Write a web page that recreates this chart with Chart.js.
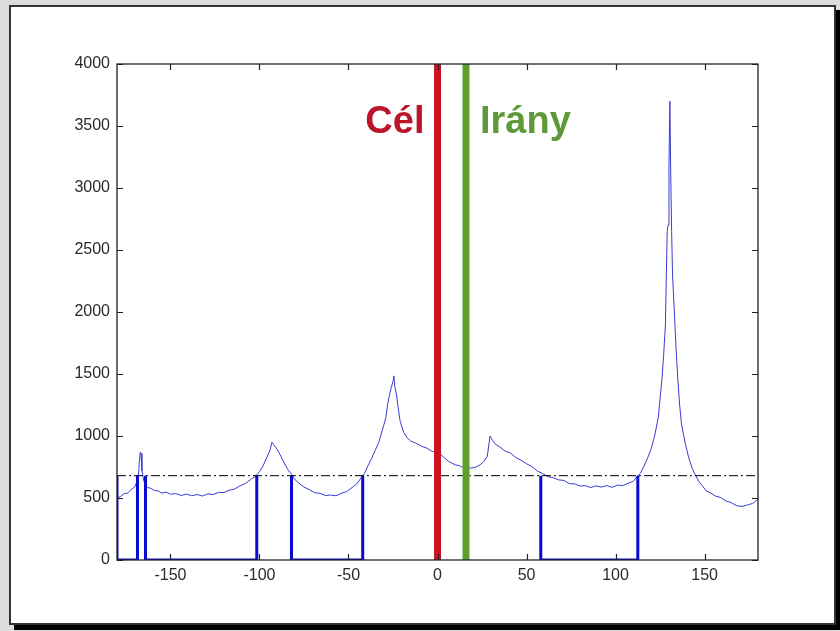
<!DOCTYPE html>
<html lang="hu">
<head>
<meta charset="UTF-8">
<title>Cél / Irány</title>
<style>
  html, body { margin: 0; padding: 0; }
  body { width: 840px; height: 631px; background: #dcdcdc; position: relative; overflow: hidden; }
  .frame { position: absolute; left: 9px; top: 5px; width: 823px; height: 616px;
           background: #fff; border: 2px solid #333; box-shadow: 5px 5px 0 #000; }
  #chart { position: absolute; left: 0; top: 0; }
</style>
</head>
<body>
<div class="frame"></div>
<canvas id="chart" width="840" height="631"></canvas>

<script src="https://cdn.jsdelivr.net/npm/chart.js@4"></script>
<script>
// axis ticks
const xTicks = [-150, -100, -50, 0, 50, 100, 150];
const yTicks = [0, 500, 1000, 1500, 2000, 2500, 3000, 3500, 4000];

// histogram curve (angle in degrees, value)
const angle = [
  -180, -178, -176, -174, -172, -170, -169, -168, -167.5, -167, -166.5, -166, -165, -164, -163,
  -161, -159, -157, -155, -152, -150, -147, -144, -141, -138, -135, -132, -129, -126, -123,
  -120, -117, -114, -111, -108, -105, -102, -100, -98, -96, -94, -93, -92, -90, -88,
  -86, -84, -82, -80, -78, -75, -72, -69, -66, -63, -60, -57, -54, -51, -48,
  -45, -43, -41, -39, -37, -35, -33, -31, -29, -28, -27, -26, -25, -24.5, -24,
  -23, -22, -21, -19, -17, -15, -12, -9, -6, -3, 0, 2, 4, 6, 8,
  10, 12, 14, 16, 18, 20, 22, 24, 26, 28, 29.5, 31, 33, 35, 38,
  41, 44, 47, 50, 53, 56, 59, 62, 65, 68, 71, 74, 77, 80, 83,
  86, 89, 92, 95, 98, 101, 104, 107, 110, 112, 114, 116, 118, 120, 122,
  124, 125, 126, 127, 128, 129, 129.5, 130, 130.5, 131, 131.5, 132, 133, 134, 135,
  136, 137, 139, 141, 143, 145, 147, 149, 151, 153, 156, 159, 162, 165, 168,
  171, 174, 177, 180
];
const power = [
  500, 512, 535, 540, 568, 590, 625, 670, 780, 870, 860, 720, 640, 605, 585,
  578, 560, 558, 540, 546, 530, 536, 520, 532, 518, 528, 516, 533, 528, 545,
  544, 562, 572, 598, 616, 648, 678, 712, 758, 822, 888, 950, 930, 892, 838,
  782, 728, 692, 648, 622, 588, 568, 542, 538, 520, 524, 518, 538, 552, 584,
  618, 662, 698, 762, 818, 884, 948, 1045, 1148, 1255, 1330, 1390, 1440, 1485, 1400,
  1330, 1220, 1120, 1030, 985, 958, 942, 918, 902, 876, 866, 848, 822, 798, 782,
  766, 762, 748, 746, 740, 744, 752, 768, 794, 838, 1000, 962, 928, 912, 878,
  862, 826, 804, 776, 754, 718, 698, 672, 664, 646, 642, 616, 614, 596, 600,
  584, 598, 588, 600, 586, 604, 600, 618, 636, 672, 700, 758, 822, 898, 1004,
  1150, 1300, 1450, 1650, 1900, 2650, 2700, 3170, 3700, 3100, 2650, 2300, 2000, 1700, 1450,
  1250, 1100, 950, 830, 740, 680, 628, 594, 556, 544, 516, 504, 476, 462, 438,
  432, 444, 456, 490
];

const threshold = 680;
// sectors below the threshold
const sectorStart = [-180, -164, -82, 58];
const sectorEnd = [-168.5, -101.5, -42, 112.5];

const targetAngle = 0;    // Cél
const headingAngle = 16;  // Irány
const markerNames = ['Cél', 'Irány'];

const curve = angle.map((a, i) => ({ x: a, y: power[i] }));
const sectors = [];
sectorStart.forEach((s, i) => {
  sectors.push({ x: s, y: threshold }, { x: s, y: 0 }, { x: sectorEnd[i], y: 0 }, { x: sectorEnd[i], y: threshold });
  sectors.push({ x: sectorEnd[i], y: null });
});

const boxPlugin = {
  id: 'box',
  afterDatasetsDraw(chart) {
    const { ctx, chartArea: a, scales } = chart;
    ctx.save();
    ctx.strokeStyle = '#222';
    ctx.lineWidth = 1.3;
    ctx.strokeRect(a.left, a.top, a.right - a.left, a.bottom - a.top);
    ctx.lineWidth = 1.2;
    ctx.beginPath();
    xTicks.forEach(v => {
      const px = Math.round(scales.x.getPixelForValue(v)) + 0.5;
      ctx.moveTo(px, a.bottom); ctx.lineTo(px, a.bottom - 6);
      ctx.moveTo(px, a.top); ctx.lineTo(px, a.top + 6);
    });
    yTicks.forEach(v => {
      const py = Math.round(scales.y.getPixelForValue(v)) + 0.5;
      ctx.moveTo(a.left, py); ctx.lineTo(a.left + 6, py);
      ctx.moveTo(a.right, py); ctx.lineTo(a.right - 6, py);
    });
    ctx.stroke();

    // marker labels
    ctx.font = 'bold 38px "Liberation Sans", Arial, sans-serif';
    ctx.textBaseline = 'alphabetic';
    const yText = scales.y.getPixelForValue(3440);
    ctx.fillStyle = '#bc1428';
    ctx.textAlign = 'right';
    ctx.fillText(markerNames[0], scales.x.getPixelForValue(targetAngle) - 13, yText);
    ctx.fillStyle = '#5e9a38';
    ctx.textAlign = 'left';
    ctx.fillText(markerNames[1], scales.x.getPixelForValue(headingAngle) + 14, yText);
    ctx.restore();
  }
};

const tickFont = { family: '"Liberation Sans", Arial, sans-serif', size: 16 };

new Chart(document.getElementById('chart'), {
  type: 'line',
  data: {
    datasets: [
      { data: curve, borderColor: '#3a3ad4', borderWidth: 1, pointRadius: 0, tension: 0, order: 4 },
      { data: sectors, borderColor: '#0a0ad2', borderWidth: 3, pointRadius: 0, spanGaps: false, order: 3 },
      { data: [{ x: -180, y: threshold }, { x: 180, y: threshold }], borderColor: '#000', borderWidth: 1,
        borderDash: [9, 3, 2, 3], pointRadius: 0, order: 2 },
      { data: [{ x: targetAngle, y: 0 }, { x: targetAngle, y: 4000 }], borderColor: '#cc1322', borderWidth: 7,
        pointRadius: 0, borderCapStyle: 'butt', order: 1 },
      { data: [{ x: headingAngle, y: 0 }, { x: headingAngle, y: 4000 }], borderColor: '#5da12c', borderWidth: 7,
        pointRadius: 0, borderCapStyle: 'butt', order: 0 }
    ]
  },
  options: {
    responsive: false,
    animation: false,
    devicePixelRatio: 1,
    layout: { padding: { left: 20, top: 64, right: 82, bottom: 31 } },
    plugins: { legend: { display: false }, tooltip: { enabled: false } },
    scales: {
      x: {
        type: 'linear', min: -180, max: 180,
        grid: { display: false, drawTicks: false },
        border: { display: false },
        afterBuildTicks: s => { s.ticks = xTicks.map(v => ({ value: v })); },
        afterFit: s => { s.height = 40; },
        ticks: { font: tickFont, color: '#2a2a2a', padding: 6, maxRotation: 0, autoSkip: false,
                 callback: v => String(v) }
      },
      y: {
        min: 0, max: 4000,
        grid: { display: false, drawTicks: false },
        border: { display: false },
        afterBuildTicks: s => { s.ticks = yTicks.map(v => ({ value: v })); },
        afterFit: s => { s.width = 97; },
        ticks: { font: tickFont, color: '#2a2a2a', padding: 7, autoSkip: false,
                 callback: v => String(v) }
      }
    }
  },
  plugins: [boxPlugin]
});
</script>
</body>
</html>
